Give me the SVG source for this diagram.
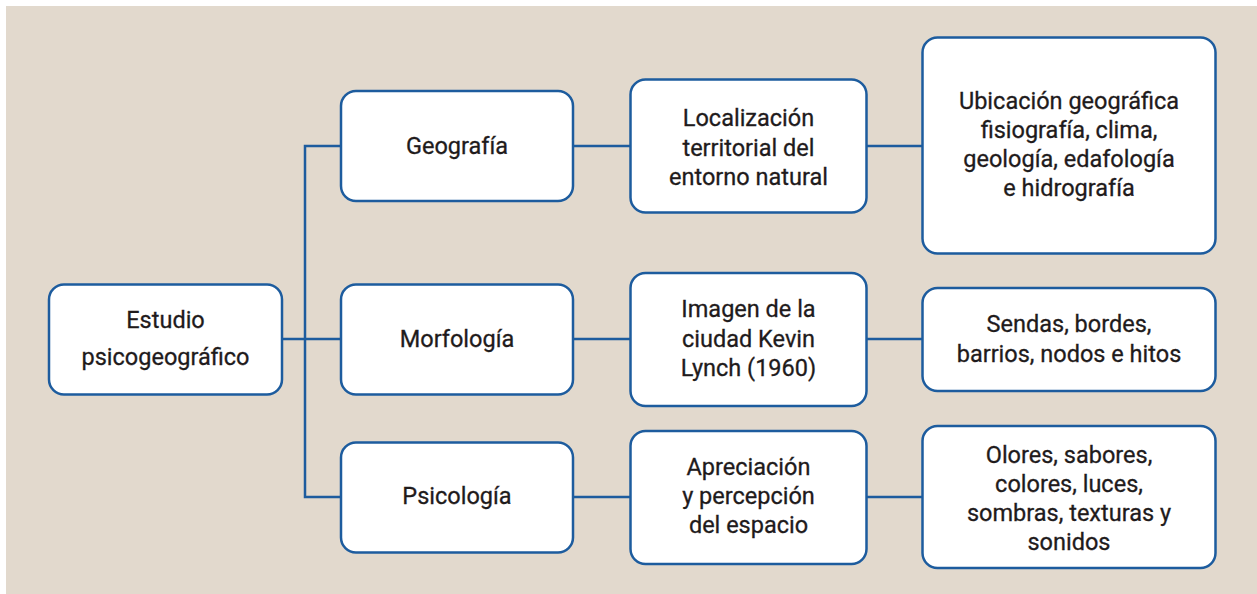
<svg xmlns="http://www.w3.org/2000/svg" width="1257" height="594" viewBox="0 0 1257 594">
<style>
.box{fill:#ffffff;stroke:#1d5c9e;stroke-width:2.5}
.ln{fill:none;stroke:#1d5c9e;stroke-width:2.5}
text{font-family:Roboto,"Liberation Sans",sans-serif;font-size:23.5px;font-weight:400;fill:#1f1b1c;stroke:#1f1b1c;stroke-width:0.3;text-anchor:middle}
</style>
<rect x="0" y="0" width="1257" height="594" fill="#ffffff"/>
<rect x="6" y="6" width="1251" height="588" fill="#e2d9cd"/>
<g id="connectors">
<path class="ln" d="M282 339 H341"/>
<path class="ln" d="M341 146 H305 V497 H341"/>
<path class="ln" d="M573 146 H630"/>
<path class="ln" d="M573 339 H630"/>
<path class="ln" d="M573 497 H630"/>
<path class="ln" d="M867 146 H922"/>
<path class="ln" d="M867 339 H922"/>
<path class="ln" d="M867 497 H922"/>
</g>
<g id="estudio">
<rect class="box" x="49" y="284.5" width="233" height="110" rx="15"/>
<text x="165.5" y="327.5">Estudio</text>
<text x="165.5" y="364.5">psicogeográfico</text>
</g>
<g id="geografia">
<rect class="box" x="341" y="91" width="232" height="110" rx="15"/>
<text x="457" y="153.5">Geografía</text>
</g>
<g id="morfologia">
<rect class="box" x="341" y="284.5" width="232" height="110" rx="15"/>
<text x="457" y="346.5">Morfología</text>
</g>
<g id="psicologia">
<rect class="box" x="341" y="442.5" width="232" height="110" rx="15"/>
<text x="457" y="504">Psicología</text>
</g>
<g id="localizacion">
<rect class="box" x="630.5" y="79.5" width="236" height="133" rx="15"/>
<text x="748.5" y="126">Localización</text>
<text x="748.5" y="155.5">territorial del</text>
<text x="748.5" y="184.5">entorno natural</text>
</g>
<g id="imagen">
<rect class="box" x="630.5" y="273" width="236" height="133" rx="15"/>
<text x="748.5" y="317">Imagen de la</text>
<text x="748.5" y="346.5">ciudad Kevin</text>
<text x="748.5" y="375.5">Lynch (1960)</text>
</g>
<g id="apreciacion">
<rect class="box" x="630.5" y="431" width="236" height="133" rx="15"/>
<text x="748.5" y="474.5">Apreciación</text>
<text x="748.5" y="504">y percepción</text>
<text x="748.5" y="533">del espacio</text>
</g>
<g id="ubicacion">
<rect class="box" x="922.5" y="37.5" width="293" height="216" rx="15"/>
<text x="1069" y="108.5">Ubicación geográfica</text>
<text x="1069" y="137.5">fisiografía, clima,</text>
<text x="1069" y="167">geología, edafología</text>
<text x="1069" y="196">e hidrografía</text>
</g>
<g id="sendas">
<rect class="box" x="922.5" y="288" width="293" height="103" rx="15"/>
<text x="1069" y="332">Sendas, bordes,</text>
<text x="1069" y="361.5">barrios, nodos e hitos</text>
</g>
<g id="olores">
<rect class="box" x="922.5" y="426" width="293" height="142" rx="15"/>
<text x="1069" y="462.5">Olores, sabores,</text>
<text x="1069" y="491.5">colores, luces,</text>
<text x="1069" y="521">sombras, texturas y</text>
<text x="1069" y="550">sonidos</text>
</g>
</svg>
